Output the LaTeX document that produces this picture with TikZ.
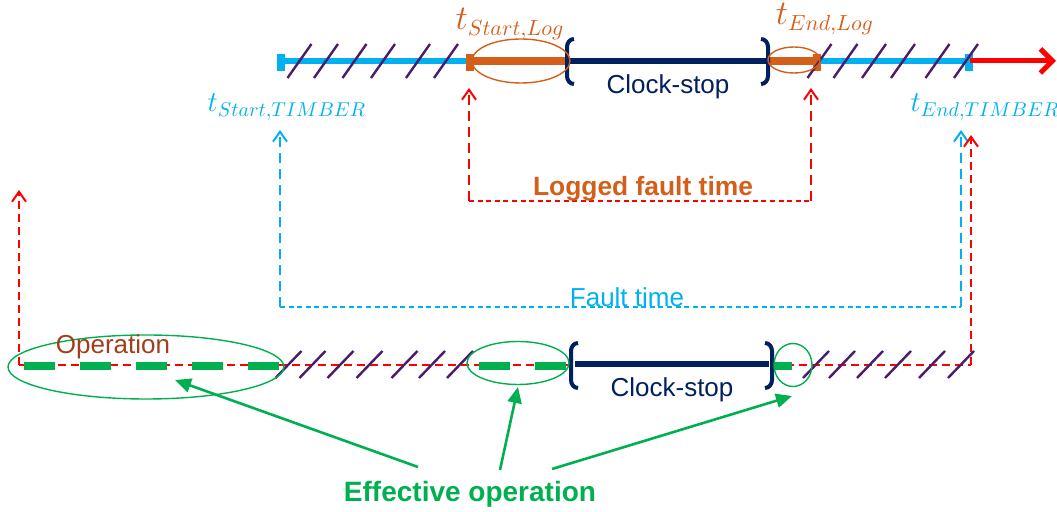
\documentclass[tikz,border=0pt]{standalone}
\usepackage{fontspec}
\setmainfont{Liberation Sans}
\usetikzlibrary{arrows.meta}
\definecolor{cy}{HTML}{00B0F0}
\definecolor{org}{HTML}{D45F1B}
\definecolor{navy}{HTML}{002060}
\definecolor{rd}{HTML}{FF0000}
\definecolor{hatchc}{HTML}{4A1C6C}
\definecolor{grn}{HTML}{00B050}
\definecolor{brn}{HTML}{A33E1C}
\tikzset{
  hatch/.style={hatchc, line width=1.2pt},
  bracketline/.style={navy, line width=2pt},
  reddash/.style={rd, line width=1pt, dash pattern=on 5pt off 3pt},
  redshort/.style={rd, line width=1pt, dash pattern=on 2.5pt off 1.8pt},
  cydash/.style={cy, line width=1pt, dash pattern=on 5pt off 3pt},
  cyshort/.style={cy, line width=1pt, dash pattern=on 2.5pt off 1.8pt},
  grnarrow/.style={grn, line width=1.3pt, -{Triangle[length=8pt,width=7pt]}},
  grndash/.style={grn, line width=4.2pt, dash pattern=on 15.5pt off 12.5pt},
  ell/.style={line width=0.7pt},
  mathlbl/.style={font=\fontsize{14.5}{16}\selectfont, inner sep=0pt},
  loglbl/.style={font=\fontsize{16}{18}\selectfont, inner sep=0pt},
  txt/.style={font=\fontsize{13}{15}\selectfont, inner sep=0pt},
}
\begin{document}
\begin{tikzpicture}[x=0.5pt,y=-0.5pt]
\useasboundingbox (0,0) rectangle (1057,512);

% ---------- top timeline ----------
\coordinate (tA) at (282,61);
\coordinate (tB) at (970,61);
\coordinate (tC) at (1056,61);
\draw[cy, line width=3pt] (tA) -- (tB);
\fill[cy] (277,54) rectangle (285,71);
\fill[cy] (965,54) rectangle (973,71);
% orange segments
\coordinate (oA) at (469,61);
\coordinate (oB) at (567,61);
\coordinate (oC) at (768,61);
\coordinate (oD) at (816,61);
\draw[org, line width=4pt] (oA) -- (oB);
\draw[org, line width=4pt] (oC) -- (oD);
\fill[org] (466,54) rectangle (474,71);
\fill[org] (813,54) rectangle (821,71);
% navy clock-stop
\draw[navy, line width=3pt] (570,61) -- (766,61);
\draw[bracketline] (574,39) to[out=180,in=90] (567,47) -- (567,76) to[out=-90,in=180] (574,84);
\draw[bracketline] (761,39) to[out=0,in=90] (768,47) -- (768,76) to[out=-90,in=0] (761,84);
\node[txt, text=navy] (cs1) at (668,87) {Clock-stop};
% hatches top
\foreach \c in {299.5,326,354.5,383,418,446,819.5,845.5,874,903,937.5,966}
  \draw[hatch] (\c-12,78) -- (\c+12,44);
% red arrow
\draw[rd, line width=2.5pt, -{Straight Barb[length=6pt,width=12pt]}] (tB) -- (tC);
% ellipses top
\draw[org, ell] (521,61) ellipse [x radius=49, y radius=22];
\draw[org, ell] (794,60) ellipse [x radius=26, y radius=13];
% labels
\node[loglbl, text=org] (tsl) at (510,24) {$t_{Start,Log}$};
\node[loglbl, text=org] (tel) at (825,19) {$t_{End,Log}$};
\node[mathlbl, text=cy] (tst) at (287,107) {$t_{Start,TIMBER}$};
\node[mathlbl, text=cy] (tet) at (985,107) {$t_{End,TIMBER}$};

% ---------- logged fault time ----------
\coordinate (l1) at (469,88);
\coordinate (l2) at (469,201);
\coordinate (l3) at (811,201);
\coordinate (l4) at (811,88);
\draw[reddash, -{Straight Barb[length=5pt,width=7pt]}] (l2) -- (l1);
\draw[reddash, -{Straight Barb[length=5pt,width=7pt]}] (l3) -- (l4);
\draw[redshort] (l2) -- (l3);
\node[font=\fontsize{13.2}{15}\bfseries, text=org, inner sep=0pt] (lft) at (643,189) {Logged fault time};

% ---------- fault time ----------
\coordinate (f1) at (280,130);
\coordinate (f2) at (280,307);
\coordinate (f3) at (961,307);
\coordinate (f4) at (961,130);
\draw[cydash, -{Straight Barb[length=5pt,width=7pt]}] (f2) -- (f1);
\draw[cydash, -{Straight Barb[length=5pt,width=7pt]}] (f3) -- (f4);
\draw[cyshort] (f2) -- (f3);
\node[txt, text=cy] (ft) at (627,297) {Fault time};

% ---------- bottom operation line ----------
\coordinate (r1) at (19,190);
\coordinate (r2) at (19,365);
\coordinate (r3) at (971,365);
\coordinate (r4) at (971,135);
\draw[rd, line width=1pt, dash pattern=on 4pt off 2.5pt, -{Straight Barb[length=5pt,width=7pt]}] (r2) -- (r1);
\draw[rd, line width=1pt, dash pattern=on 4pt off 2.5pt, -{Straight Barb[length=5pt,width=7pt]}] (r3) -- (r4);
\draw[rd, line width=1pt, dash pattern=on 4pt off 2.5pt] (r2) -- (r3);
% green effective operation segments
\draw[grndash] (24,366) -- (281,366);
\draw[grndash] (479,366) -- (567,366);
\draw[grn, line width=4.2pt] (774,366) -- (792,366);
% navy clock-stop bottom
\draw[navy, line width=3pt] (575,364) -- (769,364);
\draw[bracketline] (578,343) to[out=180,in=90] (571,351) -- (571,380) to[out=-90,in=180] (578,388);
\draw[bracketline] (765,343) to[out=0,in=90] (772,351) -- (772,380) to[out=-90,in=0] (765,388);
\node[txt, text=navy] (cs2) at (672,390) {Clock-stop};
% hatches bottom
\foreach \c in {288.5,312.5,340.5,369.5,404.5,432,460,816,842,870,898,932,961}
  \draw[hatch] (\c-13,378) -- (\c+13,351);
% ellipses bottom
\draw[grn, ell] (146,367) ellipse [x radius=138, y radius=32];
\draw[grn, ell] (518,363) ellipse [x radius=51, y radius=21.5];
\draw[grn, ell] (793,365) ellipse [x radius=19, y radius=21.5];
\node[txt, text=brn] (op) at (113,347) {Operation};

% ---------- effective operation ----------
\node[font=\fontsize{14}{16}\bfseries, text=grn, inner sep=0pt] (eff) at (470,494) {Effective operation};
\coordinate (g1s) at (418,467);
\coordinate (g1e) at (175,380);
\coordinate (g2s) at (500,470);
\coordinate (g2e) at (518,387);
\coordinate (g3s) at (552,469);
\coordinate (g3e) at (792,396);
\draw[grnarrow] (g1s) -- (g1e);
\draw[grnarrow] (g2s) -- (g2e);
\draw[grnarrow] (g3s) -- (g3e);
\end{tikzpicture}
\end{document}
